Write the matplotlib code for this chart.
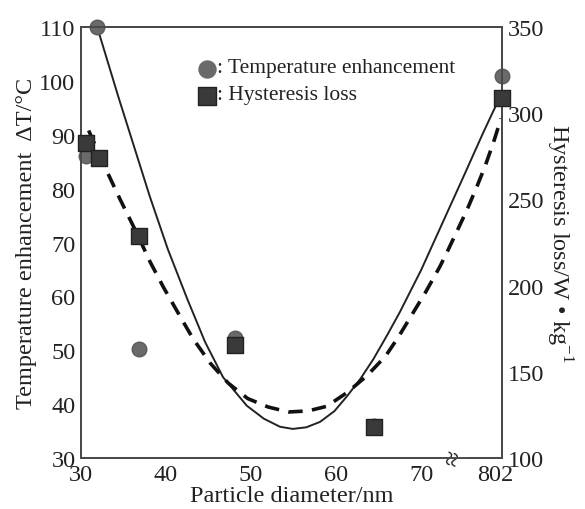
import matplotlib
matplotlib.use('Agg')
import matplotlib.pyplot as plt

# measured points
diam_temp = [31.9, 30.6, 36.8, 48.1, 64.4, 79.5]
temp_rise = [110, 86, 50.3, 52.3, 36, 101]

diam_loss = [30.6, 32.1, 36.8, 48.1, 64.4, 79.5]
hyst_loss = [283, 274, 229, 165.5, 118, 309]

# fitted curves
fit_temp_x = [31.9, 34.4, 36.2, 38.1, 40.2, 42.5, 44.6, 46.7, 49.5, 51.5, 53.4,
              54.9, 56.5, 58.1, 59.8, 61.3, 62.9, 64.4, 66, 67.5, 70, 72.5,
              75, 77.3, 79.5]
fit_temp_y = [110, 97, 88, 78.5, 68.8, 59.5, 51.5, 45, 39.7, 37.3, 35.8,
              35.4, 35.7, 36.7, 38.7, 41.5, 44.8, 48.4, 52.8, 57.1, 64.9, 73.6,
              82.3, 90.4, 97.8]

fit_loss_x = [30.9, 32.5, 34.6, 36.6, 38.1, 39.7, 41.9, 43.2, 45.2, 47.3, 49.6,
              52, 54.4, 56.7, 58.9, 61.3, 63.6, 65.8, 67.3, 68.9, 70.5, 72.2,
              73.2, 75.4, 76.6, 77.5, 78.5, 79.4]
fit_loss_y = [290, 272, 250, 230, 214, 199, 180, 169, 155, 143.5, 134.5,
              129.6, 126.7, 127.3, 130, 138, 147.6, 159, 170, 183, 196, 211,
              221, 244, 258, 269, 283, 297]

x_ticks = [30, 40, 50, 60, 70, 78.7]
x_tick_labels = ['30', '40', '50', '60', '70', '802']

plt.rcParams['font.family'] = ['Liberation Serif', 'DejaVu Serif']
plt.rcParams['mathtext.fontset'] = 'custom'
plt.rcParams['mathtext.rm'] = 'Liberation Serif'

fig = plt.figure(figsize=(5.85, 5.1), dpi=100)
ax = fig.add_axes([0.1385, 0.10, 0.7195, 0.845])
ax2 = ax.twinx()

spine_col = '#4a4a4a'
for a in (ax, ax2):
    for s in a.spines.values():
        s.set_color(spine_col)
        s.set_linewidth(1.4)
    a.tick_params(length=0, labelsize=17.5, colors='#222222', pad=4)

ax.plot(fit_temp_x, fit_temp_y, color='#222222', lw=1.4, zorder=2)
ax2.plot(fit_loss_x, fit_loss_y, color='#111111', lw=2.6, ls=(0, (4, 2.6)), zorder=2)

ax.scatter(diam_temp, temp_rise, s=110, marker='o', color='#6a6a6a',
           edgecolors='#5a5a5a', zorder=3, clip_on=False)
ax2.scatter(diam_loss, hyst_loss, s=120, marker='s', color='#3a3a3a',
            edgecolors='#222222', zorder=4, clip_on=False)

ax.set_xlim(30, 79.5)
ax.set_ylim(30, 110)
ax2.set_ylim(100, 350)
ax.set_xticks(x_ticks)
ax.set_xticklabels(x_tick_labels)
ax.set_yticks(range(30, 111, 10))
ax2.set_yticks(range(100, 351, 50))

ax.set_xlabel('Particle diameter/nm', fontsize=17.5, labelpad=0, color='#222222')
ax.set_ylabel('Temperature enhancement  ΔT/°C', fontsize=17.5, labelpad=2,
              color='#222222')
ax2.set_ylabel('Hysteresis loss/W • kg$^{-1}$', fontsize=17.5, rotation=270,
               labelpad=22, color='#222222')

# axis break mark
ax.text(74, 30, '≈', rotation=75, fontsize=20, ha='center', va='center',
        color='#222222', zorder=5,
        bbox=dict(boxstyle='square,pad=0.0', fc='white', ec='none'))

# legend
ax.scatter([44.8], [102.3], s=150, marker='o', color='#6a6a6a', zorder=3)
ax.scatter([44.8], [97.2], s=150, marker='s', color='#3a3a3a',
           edgecolors='#222222', zorder=3)
ax.text(46.0, 102.5, ': Temperature enhancement', fontsize=15.5, va='center',
        color='#222222')
ax.text(46.0, 97.4, ': Hysteresis loss', fontsize=15.5, va='center',
        color='#222222')

plt.savefig('out.png', dpi=100)
